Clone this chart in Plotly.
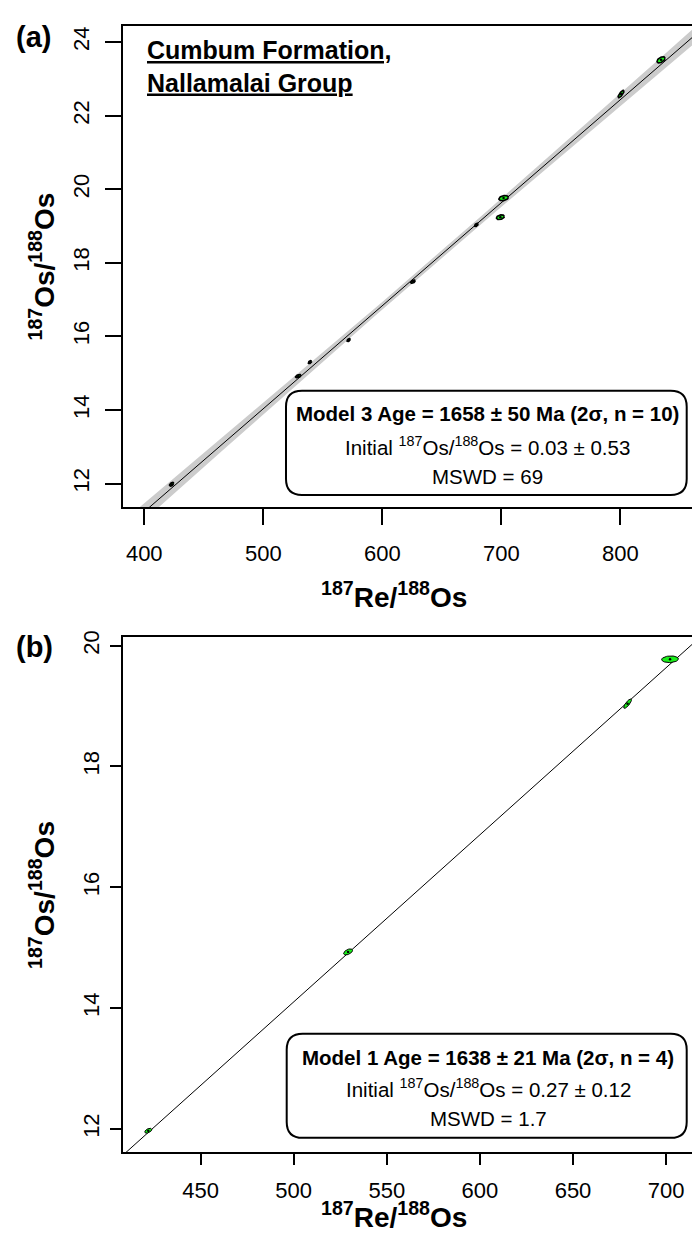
import numpy as np
import plotly.graph_objects as go

W, H = 692, 1233

# ---------------- data ----------------
# Panel (a): Model 3 isochron, n = 10
a_re  = [423.0, 529.4, 539.2, 571.7, 625.8, 679.0, 699.2, 701.9, 800.6, 834.2]
a_os  = [11.98, 14.92, 15.30, 15.90, 17.49, 19.03, 19.24, 19.76, 22.59, 23.52]
a_sx  = [1.8, 2.3, 1.4, 1.4, 1.9, 1.5, 3.3, 4.0, 2.5, 3.4]
a_sy  = [0.05, 0.045, 0.04, 0.04, 0.045, 0.045, 0.065, 0.07, 0.10, 0.085]
a_rho = [0.5, 0.5, 0.5, 0.5, 0.5, 0.5, 0.3, 0.3, 0.8, 0.5]
a_age_ma, a_initial = 1658, 0.03
a_env_mid, a_env_slope = 0.10, 0.00085
a_xticks = [400, 500, 600, 700, 800]
a_yticks = [12, 14, 16, 18, 20, 22, 24]
a_xrange = [382.4, 860.2]
a_yrange = [11.35, 24.45]

# Panel (b): Model 1 isochron, n = 4
b_re  = [421.9, 529.2, 679.3, 702.1]
b_os  = [11.97, 14.93, 19.04, 19.775]
b_sx  = [1.9, 2.4, 2.1, 4.5]
b_sy  = [0.04, 0.05, 0.077, 0.055]
b_rho = [0.5, 0.5, 0.8, 0.1]
b_age_ma, b_initial = 1638, 0.27
b_xticks = [450, 500, 550, 600, 650, 700]
b_yticks = [12, 14, 16, 18, 20]
b_xrange = [408.5, 713.9]
b_yrange = [11.615, 20.137]

LAMBDA = 1.666e-11  # 187Re decay constant (1/yr)

FONT = "Arial, Liberation Sans, Helvetica, sans-serif"
GREEN = "#1aee1a"

def px(x):
    return x / W

def py(y):
    return 1 - y / H

fig = go.Figure()

def ellipse(cx, cy, sx, sy, rho, n=48):
    t = np.linspace(0, 2 * np.pi, n)
    x = cx + sx * np.cos(t)
    y = cy + sy * (rho * np.cos(t) + np.sqrt(1 - rho ** 2) * np.sin(t))
    return x, y

def add_panel(xs, ys, sxs, sys_, rhos, age, init, xrange, xa, ya, env=None, lw=1.0):
    slope = np.exp(LAMBDA * age * 1e6) - 1
    xl = np.linspace(xrange[0] - 5, xrange[1] + 5, 80)
    yl = init + slope * xl
    if env is not None:
        xm = float(np.mean(xs))
        hw = np.sqrt(env[0] ** 2 + (env[1] * (xl - xm)) ** 2)
        fig.add_trace(go.Scatter(
            x=np.concatenate([xl, xl[::-1]]),
            y=np.concatenate([yl + hw, (yl - hw)[::-1]]),
            fill="toself", fillcolor="#cccccc", line=dict(width=0),
            mode="lines", hoverinfo="skip", showlegend=False,
            xaxis=xa, yaxis=ya))
    fig.add_trace(go.Scatter(x=xl, y=yl, mode="lines",
                             line=dict(color="black", width=1),
                             showlegend=False, xaxis=xa, yaxis=ya))
    for cx, cy, sx, sy, r in zip(xs, ys, sxs, sys_, rhos):
        ex, ey = ellipse(cx, cy, sx, sy, r)
        fig.add_trace(go.Scatter(x=ex, y=ey, fill="toself", fillcolor=GREEN,
                                 mode="lines", line=dict(color="black", width=lw),
                                 showlegend=False, xaxis=xa, yaxis=ya))
    fig.add_trace(go.Scatter(x=xs, y=ys, mode="markers",
                             marker=dict(color="black", size=2.5),
                             showlegend=False, xaxis=xa, yaxis=ya))

add_panel(a_re, a_os, a_sx, a_sy, a_rho, a_age_ma, a_initial, a_xrange,
          "x", "y", env=(a_env_mid, a_env_slope), lw=1.6)
add_panel(b_re, b_os, b_sx, b_sy, b_rho, b_age_ma, b_initial, b_xrange,
          "x2", "y2", lw=1.0)

def xaxis_cfg(rng, ticks, ticklen, standoff, anchor):
    return dict(domain=[px(123.3), 1.0], range=rng, tickvals=ticks,
                ticktext=[str(t) for t in ticks], ticks="outside",
                ticklen=ticklen, tickwidth=2, tickcolor="black",
                showline=True, linewidth=2, linecolor="black", mirror=True,
                showgrid=False, zeroline=False, anchor=anchor,
                tickfont=dict(family=FONT, size=22, color="black"),
                ticklabelstandoff=standoff)

def yaxis_cfg(dom, rng, ticks, ticklen, standoff, anchor):
    return dict(domain=dom, range=rng, tickvals=ticks,
                ticktext=[str(t) for t in ticks], ticks="outside",
                ticklen=ticklen, tickwidth=2, tickcolor="black",
                showline=True, linewidth=2, linecolor="black", mirror=False,
                showgrid=False, zeroline=False, anchor=anchor, tickangle=-90,
                tickfont=dict(family=FONT, size=22, color="black"),
                ticklabelstandoff=standoff)

fig.update_layout(
    width=W, height=H, autosize=False,
    margin=dict(l=0, r=0, t=0, b=0),
    paper_bgcolor="white", plot_bgcolor="white",
    xaxis=xaxis_cfg(a_xrange, a_xticks, 16, 9, "y"),
    yaxis=yaxis_cfg([py(503.3), py(18.7)], a_yrange, a_yticks, 16, 8, "x"),
    xaxis2=xaxis_cfg(b_xrange, b_xticks, 11, 6, "y2"),
    yaxis2=yaxis_cfg([py(1151.7), py(634)], b_yrange, b_yticks, 11, 3, "x2"),
)

def rrect(x0, y0, x1, y1, r):
    pts = [
        ("M", [(x0 + r, y0)]),
        ("L", [(x1 - r, y0)]), ("Q", [(x1, y0), (x1, y0 + r)]),
        ("L", [(x1, y1 - r)]), ("Q", [(x1, y1), (x1 - r, y1)]),
        ("L", [(x0 + r, y1)]), ("Q", [(x0, y1), (x0, y1 - r)]),
        ("L", [(x0, y0 + r)]), ("Q", [(x0, y0), (x0 + r, y0)]),
    ]
    s = ""
    for cmd, ps in pts:
        s += cmd + " " + " ".join(f"{px(a):.5f},{py(b):.5f}" for a, b in ps) + " "
    return s + "Z"

for (x0, y0, x1, y1) in [(286, 386, 686.7, 490.7), (286.7, 1032.7, 686.7, 1137.3)]:
    fig.add_shape(type="path", path=rrect(x0, y0, x1, y1, 16),
                  xref="paper", yref="paper", fillcolor="white",
                  line=dict(color="black", width=2), layer="above")

def ann(x, y, text, size, xanchor="center", yanchor="middle", angle=0, align="center"):
    fig.add_annotation(x=px(x), y=py(y), xref="paper", yref="paper",
                       text=text, showarrow=False, xanchor=xanchor,
                       yanchor=yanchor, textangle=angle, align=align,
                       font=dict(family=FONT, size=size, color="black"))

os_lbl = "<b><sup>187</sup>Os/<sup>188</sup>Os</b>"
re_lbl = "<b><sup>187</sup>Re/<sup>188</sup>Os</b>"

# panel labels
ann(33, 30, "<b>(a)</b>", 29)
ann(34, 644, "<b>(b)</b>", 29)

# titles
ann(145, 27, "<b><u>Cumbum Formation,</u></b><br><b><u>Nallamalai Group</u></b>", 25,
    xanchor="left", yanchor="top", align="left")

# axis titles
ann(394, 591, re_lbl, 28)
ann(42, 261, os_lbl, 28, angle=-90)
ann(394, 1215, re_lbl, 28)
ann(42, 893, os_lbl, 28, angle=-90)

# box texts
BOX_FS = 20.5
ann(487.5, 409.3, "<b>Model 3 Age = 1658 ± 50 Ma (2σ, n = 10)</b>", BOX_FS)
ann(487.5, 441.7, "Initial <sup>187</sup>Os/<sup>188</sup>Os = 0.03 ± 0.53", BOX_FS)
ann(487.5, 471.7, "MSWD = 69", BOX_FS)
ann(488.3, 1056.7, "<b>Model 1 Age = 1638 ± 21 Ma (2σ, n = 4)</b>", BOX_FS)
ann(488.3, 1087.3, "Initial <sup>187</sup>Os/<sup>188</sup>Os = 0.27 ± 0.12", BOX_FS)
ann(488.3, 1118.3, "MSWD = 1.7", BOX_FS)

fig.write_html("out.html")
